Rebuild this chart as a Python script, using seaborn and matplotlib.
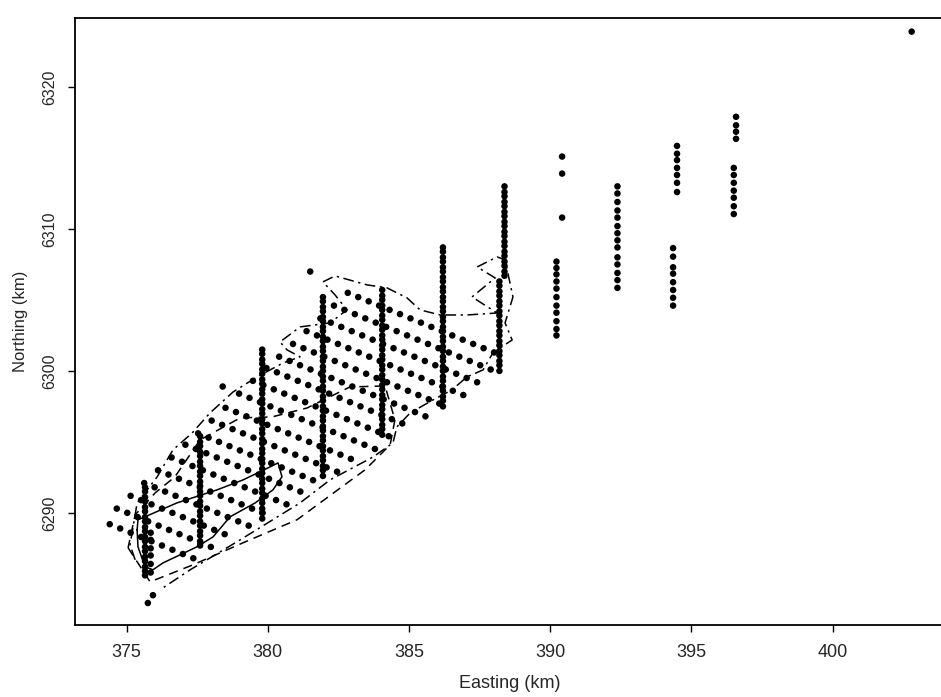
import matplotlib
matplotlib.use("Agg")
import matplotlib.pyplot as plt
import pandas as pd
import seaborn as sns

# ---- survey transects: easting of each leg and the northings sampled on it ----
t1_north = [6291.8, 6291.5, 6291.1, 6290.8, 6290.4, 6290.1, 6289.7, 6289.4, 6289.0, 6288.7,
            6288.3, 6288.0, 6287.6, 6287.3, 6286.9, 6286.6, 6286.2, 6285.9, 6285.6]
t1b_north = [6288.6, 6288.1, 6287.5, 6287.0, 6286.4, 6285.8]
t2_north = [6295.4, 6295.0, 6294.7, 6294.3, 6294.0, 6293.6, 6293.3, 6292.9, 6292.6, 6292.2,
            6291.9, 6291.5, 6291.2, 6290.8, 6290.5, 6290.1, 6289.8, 6289.4, 6289.1, 6288.7,
            6288.4, 6288.0, 6287.7]
t3_north = [6301.5, 6301.2, 6300.8, 6300.5, 6300.1, 6299.8, 6299.4, 6299.1, 6298.7, 6298.4,
            6298.0, 6297.7, 6297.3, 6297.0, 6296.6, 6296.3, 6295.9, 6295.6, 6295.2, 6294.9,
            6294.5, 6294.2, 6293.8, 6293.5, 6293.1, 6292.8, 6292.4, 6292.1, 6291.7, 6291.4,
            6291.0, 6290.7, 6290.3, 6290.0, 6289.6]
t4_north = [6305.2, 6304.9, 6304.5, 6304.2, 6303.8, 6303.5, 6303.1, 6302.8, 6302.4, 6302.1,
            6301.7, 6301.4, 6301.0, 6300.7, 6300.3, 6300.0, 6299.6, 6299.3, 6298.9, 6298.6,
            6298.2, 6297.9, 6297.5, 6297.2, 6296.8, 6296.5, 6296.1, 6295.8, 6295.4, 6295.1,
            6294.7, 6294.4, 6294.0, 6293.7, 6293.3, 6293.0, 6292.6]
t5_north = [6305.7, 6305.3, 6305.0, 6304.6, 6304.3, 6303.9, 6303.6, 6303.2, 6302.9, 6302.5,
            6302.2, 6301.8, 6301.5, 6301.1, 6300.8, 6300.4, 6300.1, 6299.7, 6299.4, 6299.0,
            6298.7, 6298.3, 6298.0, 6297.6, 6297.3, 6296.9, 6296.6, 6296.2, 6295.9, 6295.5]
t6_north = [6308.7, 6308.4, 6308.0, 6307.7, 6307.3, 6307.0, 6306.6, 6306.3, 6305.9, 6305.6,
            6305.2, 6304.9, 6304.5, 6304.2, 6303.8, 6303.5, 6303.1, 6302.8, 6302.4, 6302.1,
            6301.7, 6301.4, 6301.0, 6300.7, 6300.3, 6300.0, 6299.6, 6299.3, 6298.9, 6298.6,
            6298.2, 6297.9, 6297.5]
t7a_north = [6313.0, 6312.6, 6312.3, 6311.9, 6311.6, 6311.2, 6310.9, 6310.5, 6310.2, 6309.8,
             6309.5, 6309.1, 6308.8, 6308.4, 6308.1, 6307.7, 6307.4, 6307.0, 6306.7]
t7b_north = [6306.3, 6306.0, 6305.6, 6305.3, 6304.9, 6304.6, 6304.2, 6303.9, 6303.5, 6303.2,
             6302.8, 6302.5, 6302.1, 6301.8, 6301.4, 6301.1, 6300.7, 6300.4, 6300.0]
t8a_north = [6315.1, 6313.9, 6310.8]
t8b_north = [6307.7, 6307.25, 6306.8, 6306.3, 6305.8, 6305.2, 6304.6, 6304.1, 6303.5, 6302.95, 6302.5]
t9_north = [6313.0, 6312.5, 6311.9, 6311.3, 6310.8, 6310.2, 6309.7, 6309.2, 6308.7, 6308.0,
            6307.5, 6306.9, 6306.4, 6305.85]
t10a_north = [6315.85, 6315.3, 6314.85, 6314.3, 6313.8, 6313.25, 6312.6]
t10b_north = [6308.65, 6308.05, 6307.3, 6306.85, 6306.25, 6305.7, 6305.15, 6304.6]
t11a_north = [6317.9, 6317.3, 6316.85, 6316.35]
t11b_north = [6314.3, 6313.8, 6313.25, 6312.7, 6312.2, 6311.6, 6311.05]

leg_east = [375.65, 375.85, 377.60, 379.80, 381.95, 384.05, 386.20, 388.38, 388.20,
            390.42, 390.22, 392.38, 394.49, 394.35, 396.58, 396.50]
leg_north = [t1_north, t1b_north, t2_north, t3_north, t4_north, t5_north, t6_north,
             t7a_north, t7b_north, t8a_north, t8b_north, t9_north, t10a_north, t10b_north,
             t11a_north, t11b_north]

# ---- oblique grid rows between the transects ----
grid_east = [
    [382.83, 383.20, 383.57, 383.94, 384.31, 384.68, 385.05, 385.42, 385.79, 386.16, 386.53, 386.90, 387.27, 387.64, 388.01],
    [382.34, 382.71, 383.08, 383.45, 383.82, 384.19, 384.56, 384.93, 385.30, 385.67, 386.04, 386.41, 386.78, 387.15, 387.52, 387.89],
    [381.86, 382.23, 382.60, 382.97, 383.34, 383.71, 384.08, 384.45, 384.82, 385.19, 385.56, 385.93, 386.30, 386.67, 387.04, 387.41],
    [381.37, 381.74, 382.11, 382.48, 382.85, 383.22, 383.59, 383.96, 384.33, 384.70, 385.07, 385.44, 385.81, 386.18, 386.55, 386.92],
    [380.89, 381.26, 381.63, 382.00, 382.37, 382.74, 383.11, 383.48, 383.85, 384.22, 384.59, 384.96, 385.33, 385.70, 386.07],
    [380.40, 380.77, 381.14, 381.51, 381.88, 382.25, 382.62, 382.99, 383.36, 383.73, 384.10, 384.47, 384.84, 385.21, 385.58],
    [379.95, 380.32, 380.69, 381.06, 381.43, 381.80, 382.17, 382.54, 382.91, 383.28, 383.65, 384.02, 384.39, 384.76],
    [379.47, 379.84, 380.21, 380.58, 380.95, 381.32, 381.69, 382.06, 382.43, 382.80, 383.17, 383.54, 383.91, 384.28],
    [378.98, 379.35, 379.72, 380.09, 380.46, 380.83, 381.20, 381.57, 381.94, 382.31, 382.68, 383.05, 383.42, 383.79],
    [378.50, 378.87, 379.24, 379.61, 379.98, 380.35, 380.72, 381.09, 381.46, 381.83, 382.20, 382.57, 382.94],
    [378.01, 378.38, 378.75, 379.12, 379.49, 379.86, 380.23, 380.60, 380.97, 381.34, 381.71, 382.08, 382.45],
    [377.53, 377.90, 378.27, 378.64, 379.01, 379.38, 379.75, 380.12, 380.49, 380.86, 381.23, 381.60],
    [377.08, 377.45, 377.82, 378.19, 378.56, 378.93, 379.30, 379.67, 380.04, 380.41, 380.78, 381.15],
    [376.59, 376.96, 377.33, 377.70, 378.07, 378.44, 378.81, 379.18, 379.55, 379.92, 380.29, 380.66],
    [376.11, 376.48, 376.85, 377.22, 377.59, 377.96, 378.33, 378.70, 379.07, 379.44, 379.81],
    [375.62, 375.99, 376.36, 376.73, 377.10, 377.47, 377.84, 378.21, 378.58, 378.95, 379.32],
    [375.14, 375.51, 375.88, 376.25, 376.62, 376.99, 377.36, 377.73, 378.10, 378.47],
    [374.65, 375.02, 375.39, 375.76, 376.13, 376.50, 376.87, 377.24, 377.61, 377.98],
    [374.40, 374.77, 375.14, 375.51, 375.88, 376.25, 376.62, 376.99, 377.36],
]
grid_north = [
    [6305.5, 6305.2, 6304.9, 6304.6, 6304.3, 6304.0, 6303.7, 6303.4, 6303.1, 6302.8, 6302.5, 6302.2, 6301.9, 6301.6, 6301.3],
    [6304.6, 6304.3, 6304.0, 6303.7, 6303.4, 6303.1, 6302.8, 6302.5, 6302.2, 6301.9, 6301.6, 6301.3, 6301.0, 6300.7, 6300.4, 6300.1],
    [6303.7, 6303.4, 6303.1, 6302.8, 6302.5, 6302.2, 6301.9, 6301.6, 6301.3, 6301.0, 6300.7, 6300.4, 6300.1, 6299.8, 6299.5, 6299.2],
    [6302.8, 6302.5, 6302.2, 6301.9, 6301.6, 6301.3, 6301.0, 6300.7, 6300.4, 6300.1, 6299.8, 6299.5, 6299.2, 6298.9, 6298.6, 6298.3],
    [6301.9, 6301.6, 6301.3, 6301.0, 6300.7, 6300.4, 6300.1, 6299.8, 6299.5, 6299.2, 6298.9, 6298.6, 6298.3, 6298.0, 6297.7],
    [6301.0, 6300.7, 6300.4, 6300.1, 6299.8, 6299.5, 6299.2, 6298.9, 6298.6, 6298.3, 6298.0, 6297.7, 6297.4, 6297.1, 6296.8],
    [6300.2, 6299.9, 6299.6, 6299.3, 6299.0, 6298.7, 6298.4, 6298.1, 6297.8, 6297.5, 6297.2, 6296.9, 6296.6, 6296.3],
    [6299.3, 6299.0, 6298.7, 6298.4, 6298.1, 6297.8, 6297.5, 6297.2, 6296.9, 6296.6, 6296.3, 6296.0, 6295.7, 6295.4],
    [6298.4, 6298.1, 6297.8, 6297.5, 6297.2, 6296.9, 6296.6, 6296.3, 6296.0, 6295.7, 6295.4, 6295.1, 6294.8, 6294.5],
    [6297.4, 6297.1, 6296.8, 6296.5, 6296.2, 6295.9, 6295.6, 6295.3, 6295.0, 6294.7, 6294.4, 6294.1, 6293.8],
    [6296.5, 6296.2, 6295.9, 6295.6, 6295.3, 6295.0, 6294.7, 6294.4, 6294.1, 6293.8, 6293.5, 6293.2, 6292.9],
    [6295.6, 6295.3, 6295.0, 6294.7, 6294.4, 6294.1, 6293.8, 6293.5, 6293.2, 6292.9, 6292.6, 6292.3],
    [6294.8, 6294.5, 6294.2, 6293.9, 6293.6, 6293.3, 6293.0, 6292.7, 6292.4, 6292.1, 6291.8, 6291.5],
    [6293.9, 6293.6, 6293.3, 6293.0, 6292.7, 6292.4, 6292.1, 6291.8, 6291.5, 6291.2, 6290.9, 6290.6],
    [6293.0, 6292.7, 6292.4, 6292.1, 6291.8, 6291.5, 6291.2, 6290.9, 6290.6, 6290.3, 6290.0],
    [6292.1, 6291.8, 6291.5, 6291.2, 6290.9, 6290.6, 6290.3, 6290.0, 6289.7, 6289.4, 6289.1],
    [6291.2, 6290.9, 6290.6, 6290.3, 6290.0, 6289.7, 6289.4, 6289.1, 6288.8, 6288.5],
    [6290.3, 6290.0, 6289.7, 6289.4, 6289.1, 6288.8, 6288.5, 6288.2, 6287.9, 6287.6],
    [6289.2, 6288.9, 6288.6, 6288.3, 6288.0, 6287.7, 6287.4, 6287.1, 6286.8],
]

# ---- isolated samples ----
stray_east = [402.8, 381.5, 378.4, 375.93, 375.75]
stray_north = [6323.9, 6307.0, 6298.9, 6284.2, 6283.65]

# ---- contour lines ----
outer_east = [375.30, 375.12, 375.37, 376.08, 376.64, 377.32, 377.95, 378.77, 379.62, 380.54,
              381.14, 380.68, 380.43, 381.14, 382.20, 382.80, 382.38, 381.95, 382.38, 383.51,
              384.22, 384.93, 385.39, 386.10, 387.05, 388.12, 387.23, 388.05, 387.41, 388.12,
              388.40, 388.68, 388.40, 388.65, 387.97, 387.62, 387.05, 386.52, 385.85, 385.04,
              384.57, 384.43, 383.73, 382.20, 381.14, 379.02, 377.25, 376.18]
outer_north = [6286.69, 6287.75, 6290.70, 6292.54, 6294.44, 6295.63, 6297.04, 6298.52, 6299.58, 6300.56,
               6300.99, 6301.48, 6302.04, 6303.10, 6303.38, 6304.30, 6305.35, 6306.27, 6306.69, 6306.06,
               6305.85, 6305.14, 6304.30, 6303.94, 6303.94, 6304.08, 6305.21, 6306.55, 6307.32, 6308.03,
               6307.82, 6305.21, 6303.38, 6302.18, 6301.27, 6300.07, 6299.58, 6298.66, 6297.96, 6297.04,
               6296.06, 6294.93, 6293.94, 6292.32, 6290.70, 6288.10, 6285.99, 6284.58]
middle_east = [375.05, 375.83, 377.35, 379.12, 381.03, 382.38, 383.44, 384.33, 384.50, 384.15,
               382.91, 381.39, 380.15, 379.02, 377.60, 376.71, 376.01, 375.30, 375.05]
middle_north = [6287.54, 6285.14, 6286.34, 6287.89, 6289.51, 6291.48, 6293.03, 6294.79, 6296.55, 6298.94,
                6298.87, 6297.39, 6296.76, 6296.69, 6295.14, 6292.54, 6291.41, 6289.86, 6287.54]
inner_east = [375.37, 375.40, 376.78, 378.20, 379.12, 380.08, 380.36, 380.50, 380.18, 379.55,
              378.66, 378.06, 377.49, 376.89, 376.29, 375.93, 375.65, 375.40, 375.37]
inner_north = [6288.80, 6289.51, 6290.70, 6291.62, 6292.32, 6293.24, 6293.52, 6292.54, 6291.62, 6290.70,
               6289.72, 6288.31, 6287.61, 6287.04, 6286.48, 6285.99, 6286.20, 6287.61, 6288.80]

# Build one table of sample locations
rows = []
for e, ns in zip(leg_east, leg_north):
    rows += [(e, n) for n in ns]
for es, ns in zip(grid_east, grid_north):
    rows += list(zip(es, ns))
rows += list(zip(stray_east, stray_north))
df = pd.DataFrame(rows, columns=['east', 'north'])

sns.set_style('ticks')
plt.rcParams['font.family'] = ['Liberation Sans', 'DejaVu Sans']

fig = plt.figure(figsize=(9.41, 6.97), dpi=100)
ax = fig.add_axes([75 / 941, 72 / 697, 870 / 941, 607 / 697])

# Contours: outer dash-dot, middle dashed, inner solid
sns.lineplot(x=outer_east, y=outer_north, sort=False, estimator=None, color='black', linewidth=1.1, ax=ax)
ax.lines[-1].set_linestyle((0, (7, 3, 1.5, 3)))
sns.lineplot(x=middle_east, y=middle_north, sort=False, estimator=None, color='black', linewidth=1.1, ax=ax)
ax.lines[-1].set_linestyle((0, (6, 4)))
sns.lineplot(x=inner_east, y=inner_north, sort=False, estimator=None, color='black', linewidth=1.1, ax=ax)

# Sample points
sns.scatterplot(data=df, x='east', y='north', color='black', s=22, edgecolor='none', linewidth=0, ax=ax)

ax.set_xlim(373.17, 403.98)
ax.set_ylim(6282.1, 6324.86)
ax.set_xticks([375, 380, 385, 390, 395, 400])
ax.set_yticks([6290, 6300, 6310, 6320])
ax.tick_params(axis='both', direction='out', length=5, width=1, color='black')
ax.tick_params(axis='x', labelsize=13, pad=9)
ax.tick_params(axis='y', labelsize=11.5, pad=8)
for lab in ax.get_yticklabels():
    lab.set_rotation(90)
    lab.set_va('center')
for sp in ax.spines.values():
    sp.set_linewidth(1.3)
    sp.set_color('black')

ax.set_xlabel('Easting (km)', fontsize=13, labelpad=10)
ax.set_ylabel('Northing (km)', fontsize=12, labelpad=10)

fig.savefig('out.png', dpi=100)
